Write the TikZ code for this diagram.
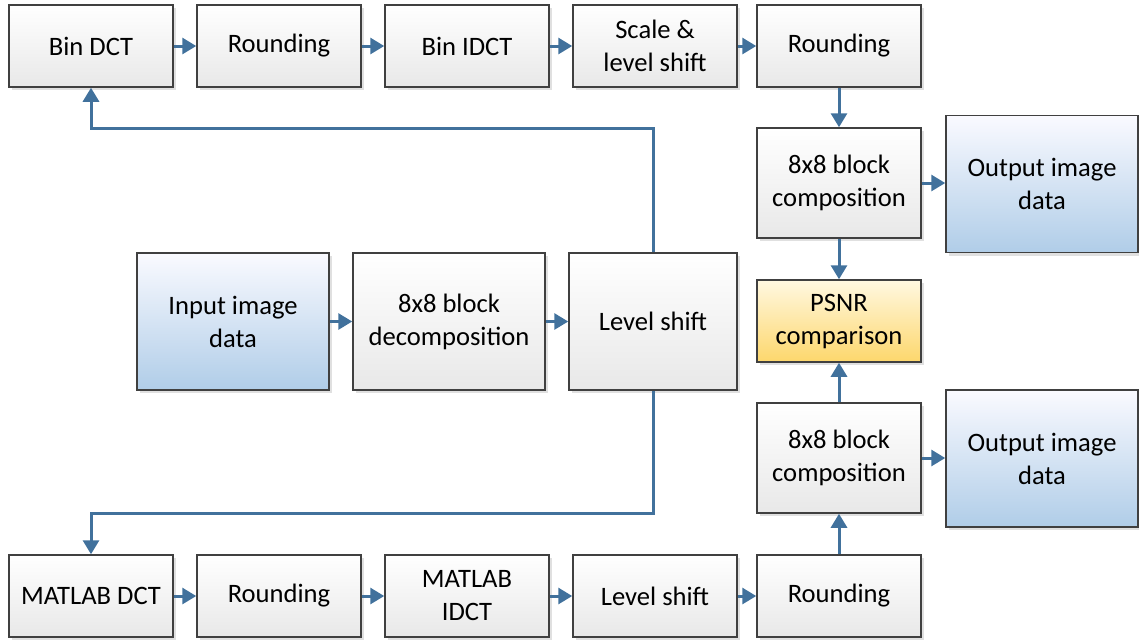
\documentclass[tikz,border=0pt]{standalone}
\usepackage{fontspec}
\setmainfont{Carlito}
\usetikzlibrary{arrows.meta,shadows}
\definecolor{arrc}{HTML}{41719C}
\definecolor{edgec}{HTML}{404040}
\begin{document}
\begin{tikzpicture}[x=0.5pt,y=-0.5pt,
  font=\fontsize{13.3pt}{16.5pt}\selectfont,
  box/.style={draw=edgec, line width=0.75pt, inner sep=0pt, align=center,
    top color=white, bottom color=black!9,
    drop shadow={shadow xshift=1.5pt, shadow yshift=-1.5pt, fill=black!12, opacity=1}},
  graybox/.style={box, minimum width=82pt, minimum height=41pt},
  bluebox/.style={box, top color=blue!2!white, bottom color={rgb,255:red,176;green,205;blue,232}},
  yellowbox/.style={box, top color={rgb,255:red,255;green,248;blue,225}, bottom color={rgb,255:red,253;green,215;blue,108}},
  arr/.style={draw=arrc, line width=1.5pt, -{Triangle[length=7pt,width=8pt]}}
]
\useasboundingbox (0,0) rectangle (1139,639);
% top row
\node[graybox] (bdct)  at (91,46)  {Bin DCT};
\node[graybox] (r1)    at (279,46) {Rounding};
\node[graybox] (bidct) at (467,46) {Bin IDCT};
\node[graybox] (scale) at (655,46) {Scale \&\\level shift};
\node[graybox] (r2)    at (839,46) {Rounding};
% right column
\node[box, minimum width=82pt, minimum height=55pt] (comp1) at (839,183) {8x8 block\\composition};
\node[bluebox, minimum width=96pt, minimum height=68.5pt] (out1) at (1042,184) {Output image\\data};
\node[yellowbox, minimum width=82pt, minimum height=41pt] (psnr) at (839,321) {PSNR\\comparison};
\node[box, minimum width=82pt, minimum height=55pt] (comp2) at (839,458) {8x8 block\\composition};
\node[bluebox, minimum width=96pt, minimum height=68.5pt] (out2) at (1042,458.5) {Output image\\data};
% middle row
\node[bluebox, minimum width=96pt, minimum height=68.5pt] (in) at (233,321.5) {Input image\\data};
\node[box, minimum width=96pt, minimum height=68.5pt] (dec) at (449,321.5) {8x8 block\\decomposition};
\node[box, minimum width=84pt, minimum height=68.5pt] (ls) at (653,321.5) {Level shift};
% bottom row
\node[graybox] (mdct)  at (91,596)  {MATLAB DCT};
\node[graybox] (r3)    at (279,596) {Rounding};
\node[graybox] (midct) at (467,596) {MATLAB\\IDCT};
\node[graybox] (ls2)   at (655,596) {Level shift};
\node[graybox] (r4)    at (839,596) {Rounding};
% bend points
\coordinate (c1) at (91,128);
\coordinate (c2) at (91,513);
% connectors
\draw[arr] (bdct) -- (r1);
\draw[arr] (r1) -- (bidct);
\draw[arr] (bidct) -- (scale);
\draw[arr] (scale) -- (r2);
\draw[arr] (r2) -- (comp1);
\draw[arr] (comp1) -- (out1.west |- comp1);
\draw[arr] (comp1) -- (psnr);
\draw[arr] (comp2) -- (psnr);
\draw[arr] (comp2) -- (out2.west |- comp2);
\draw[arr] (r4) -- (comp2);
\draw[arr] (in) -- (dec);
\draw[arr] (dec) -- (ls);
\draw[arr] (ls.north) |- (c1) -- (bdct.south);
\draw[arr] (ls.south) |- (c2) -- (mdct.north);
\draw[arr] (mdct) -- (r3);
\draw[arr] (r3) -- (midct);
\draw[arr] (midct) -- (ls2);
\draw[arr] (ls2) -- (r4);
\end{tikzpicture}
\end{document}
